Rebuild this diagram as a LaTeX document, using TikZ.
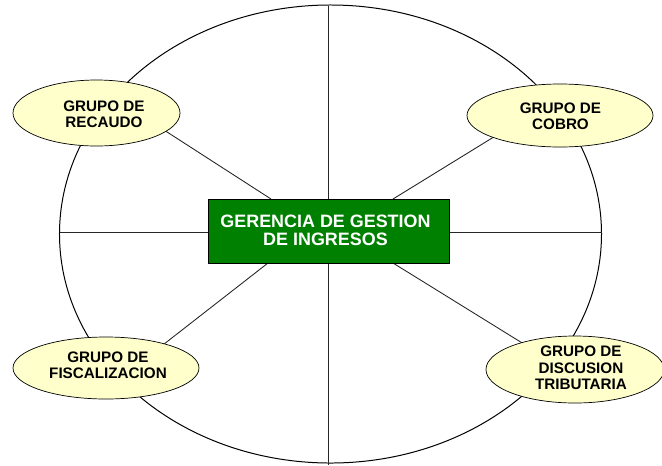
\documentclass[tikz,border=0pt]{standalone}
\usepackage{fontspec}
\setmainfont{Liberation Sans}
\usetikzlibrary{shapes.geometric,backgrounds}
\definecolor{ovalfill}{RGB}{255,255,204}
\definecolor{boxgreen}{RGB}{0,128,0}
\begin{document}
\begin{tikzpicture}[x=0.03cm,y=-0.03cm,
  oval/.style={ellipse,draw=black,line width=0.6pt,fill=ovalfill,inner sep=0pt,outer sep=0pt},
  ovaltext/.style={align=center,font=\fontsize{13}{14}\selectfont\bfseries,text=black,inner sep=0pt},
  spoke/.style={draw=black!85,line width=0.75pt},
  ring/.style={ellipse,draw=black,line width=0.85pt,inner sep=0pt,outer sep=0pt},
  gbox/.style={draw=black,line width=0.8pt,fill=boxgreen,inner sep=0pt,outer sep=0pt},
  gtext/.style={align=center,font=\fontsize{15.3}{15.6}\selectfont\bfseries,text=white,inner sep=0pt}]
\useasboundingbox (0,0) rectangle (662,465);

% central box
\node[gbox,minimum width=7.23cm,minimum height=1.92cm] (box) at (328.5,231) {};
\node[gtext] (boxt) at (325.5,230) {GERENCIA DE GESTION\\DE INGRESOS};

% satellite ovals
\node[oval,minimum width=5.01cm,minimum height=1.98cm] (recaudo) at (96.5,113) {};
\node[ovaltext] (recaudot) at (104,114.5) {GRUPO DE\\RECAUDO};

\node[oval,minimum width=5.58cm,minimum height=1.89cm] (cobro) at (560,115.5) {};
\node[ovaltext] (cobrot) at (560.5,116.5) {GRUPO DE\\COBRO};

\node[oval,minimum width=5.58cm,minimum height=1.86cm] (fisc) at (106,368) {};
\node[ovaltext] (fisct) at (108,365) {GRUPO DE\\FISCALIZACION};

\node[oval,minimum width=5.34cm,minimum height=2.01cm] (disc) at (575,369.5) {};
\node[ovaltext] (disct) at (581,368) {GRUPO DE\\DISCUSION\\TRIBUTARIA};

% end points of the radial lines
\coordinate (top) at (328,5.5);
\coordinate (bot) at (328,465);
\coordinate (lft) at (59.5,232);
\coordinate (rgt) at (601.5,232);
\coordinate (ulA) at (271,199);
\coordinate (urA) at (393,199);
\coordinate (llA) at (268,263);
\coordinate (lrA) at (393,263);
\coordinate (ulB) at (150,121);
\coordinate (urB) at (510,127);
\coordinate (llB) at (150,355);
\coordinate (lrB) at (540,354);

\begin{pgfonlayer}{background}
  \node[ring,minimum width=16.26cm,minimum height=13.74cm] (ring) at (330.5,234) {};
  \draw[spoke] (top) -- (top |- box.north);
  \draw[spoke] (bot |- box.south) -- (bot);
  \draw[spoke] (lft) -- (lft -| box.west);
  \draw[spoke] (box.east |- rgt) -- (rgt);
  \draw[spoke] (ulA) -- (ulB);
  \draw[spoke] (urA) -- (urB);
  \draw[spoke] (llA) -- (llB);
  \draw[spoke] (lrA) -- (lrB);
\end{pgfonlayer}
\end{tikzpicture}
\end{document}
